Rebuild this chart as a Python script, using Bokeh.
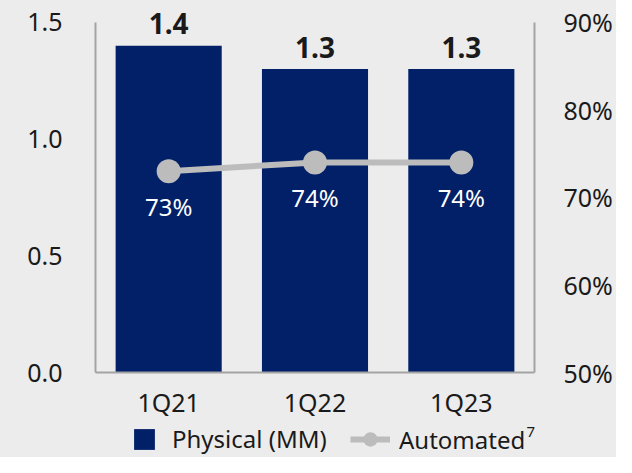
from bokeh.plotting import figure
from bokeh.layouts import column
from bokeh.models import (ColumnDataSource, Range1d, FactorRange, LinearAxis, FixedTicker,
                          PrintfTickFormatter, NumeralTickFormatter, Legend, LegendItem, Label)
from bokeh.core.properties import value
from bokeh.embed import file_html
from bokeh.resources import INLINE

categories = ["1Q21", "1Q22", "1Q23"]
physical_mm = [1.4, 1.3, 1.3]
physical_labels = ["1.4", "1.3", "1.3"]
automated_pct = [73, 74, 74]
automated_labels = ["73%", "74%", "74%"]
left_ticks = [0.0, 0.5, 1.0, 1.5]
right_ticks = [50, 60, 70, 80, 90]
legend_labels = ["Physical (MM)", "Automated"]
footnote = "7"

FONT = "Noto Sans"
BG = "#ececec"
NAVY = "#012068"
GRAY = "#bcbcbc"
AXIS = "#a3a3a3"
TXT = "#1a1a1a"

# frame spans 0..375 px; axis values 1.5 / 90% sit at 22 px from top
FRAME_H = 375
AX_H = 353
left_end = 1.5 * FRAME_H / AX_H
right_end = 50 + 40 * FRAME_H / AX_H

src = ColumnDataSource(dict(cat=categories, phys=physical_mm, plab=physical_labels,
                            auto=automated_pct, alab=automated_labels))

p = figure(width=616, height=421, x_range=FactorRange(*categories), y_range=Range1d(0, left_end),
           output_backend="svg", toolbar_location=None,
           min_border_left=95, min_border_right=82, min_border_top=0, min_border_bottom=46)
p.frame_align = False
p.extra_y_ranges = {"pct": Range1d(50, right_end)}
p.background_fill_color = BG
p.border_fill_color = BG
p.outline_line_color = None
p.xgrid.grid_line_color = None
p.ygrid.grid_line_color = None

p.vbar(x="cat", top="phys", width=0.725, source=src, fill_color=NAVY, line_color=None)
p.text(x="cat", y="phys", text="plab", source=src, text_align="center", text_baseline="alphabetic",
       y_offset=-22, text_font=value(FONT), text_font_size="28px", text_font_style="bold", text_color=TXT)

p.line(x="cat", y="auto", source=src, y_range_name="pct", line_color=GRAY, line_width=6)
p.scatter(x="cat", y="auto", source=src, y_range_name="pct", size=24, fill_color=GRAY, line_color=None)
p.text(x="cat", y="auto", text="alab", source=src, y_range_name="pct", text_align="center",
       text_baseline="alphabetic", y_offset=35, text_font=value(FONT), text_font_size="24px",
       text_color="white")

def style(ax):
    ax.axis_line_color = AXIS
    ax.axis_line_width = 2
    ax.major_tick_line_color = None
    ax.minor_tick_line_color = None
    ax.major_tick_out = 0
    ax.major_tick_in = 0
    ax.major_label_text_font = FONT
    ax.major_label_text_font_size = "25px"
    ax.major_label_text_color = TXT

yl = p.yaxis[0]
yl.ticker = FixedTicker(ticks=left_ticks)
yl.formatter = NumeralTickFormatter(format="0.0")
yl.bounds = (left_ticks[0], left_ticks[-1])
yl.major_label_standoff = 33
style(yl)

yr = LinearAxis(y_range_name="pct", ticker=FixedTicker(ticks=right_ticks),
                formatter=PrintfTickFormatter(format="%d%%"),
                bounds=(right_ticks[0], right_ticks[-1]))
yr.major_label_standoff = 29
style(yr)
p.add_layout(yr, "right")

xa = p.xaxis[0]
xa.major_label_standoff = 12
style(xa)

# legend strip: same data, drawn outside this strip's visible ranges so only the legend shows
lf = figure(width=616, height=36, x_range=FactorRange(*categories), y_range=Range1d(200, 201),
            output_backend="svg", toolbar_location=None, min_border=0)
lf.frame_align = False
lf.axis.visible = False
lf.xgrid.grid_line_color = None
lf.ygrid.grid_line_color = None
lf.background_fill_color = BG
lf.border_fill_color = BG
lf.outline_line_color = None
lbar = lf.vbar(x="cat", top="phys", width=0.725, source=src, fill_color=NAVY, line_color=None)
lline = lf.line(x="cat", y="auto", source=src, line_color=GRAY, line_width=6)
ldot = lf.scatter(x="cat", y="auto", source=src, size=24, fill_color=GRAY, line_color=None)

common = dict(padding=0, margin=0, background_fill_alpha=0, border_line_color=None,
              label_text_font=FONT, label_text_font_size="24px", label_text_color=TXT,
              label_height=26)
leg1 = Legend(items=[LegendItem(label=legend_labels[0], renderers=[lbar])], location=(131, 2),
              glyph_width=26, glyph_height=26, label_standoff=15, **common)
leg2 = Legend(items=[LegendItem(label=legend_labels[1], renderers=[lline, ldot])], location=(350, 0),
              glyph_width=40, glyph_height=36, label_standoff=9, **common)
lf.add_layout(leg1, "center")
lf.add_layout(leg2, "center")
lf.add_layout(Label(x=526, y=31, x_units="screen", y_units="screen", text=footnote, text_baseline="top",
                    text_font=FONT, text_font_size="15px", text_color=TXT))

layout = column(p, lf, spacing=0, styles={"background-color": BG})
open("out.html", "w").write(file_html(layout, INLINE))
